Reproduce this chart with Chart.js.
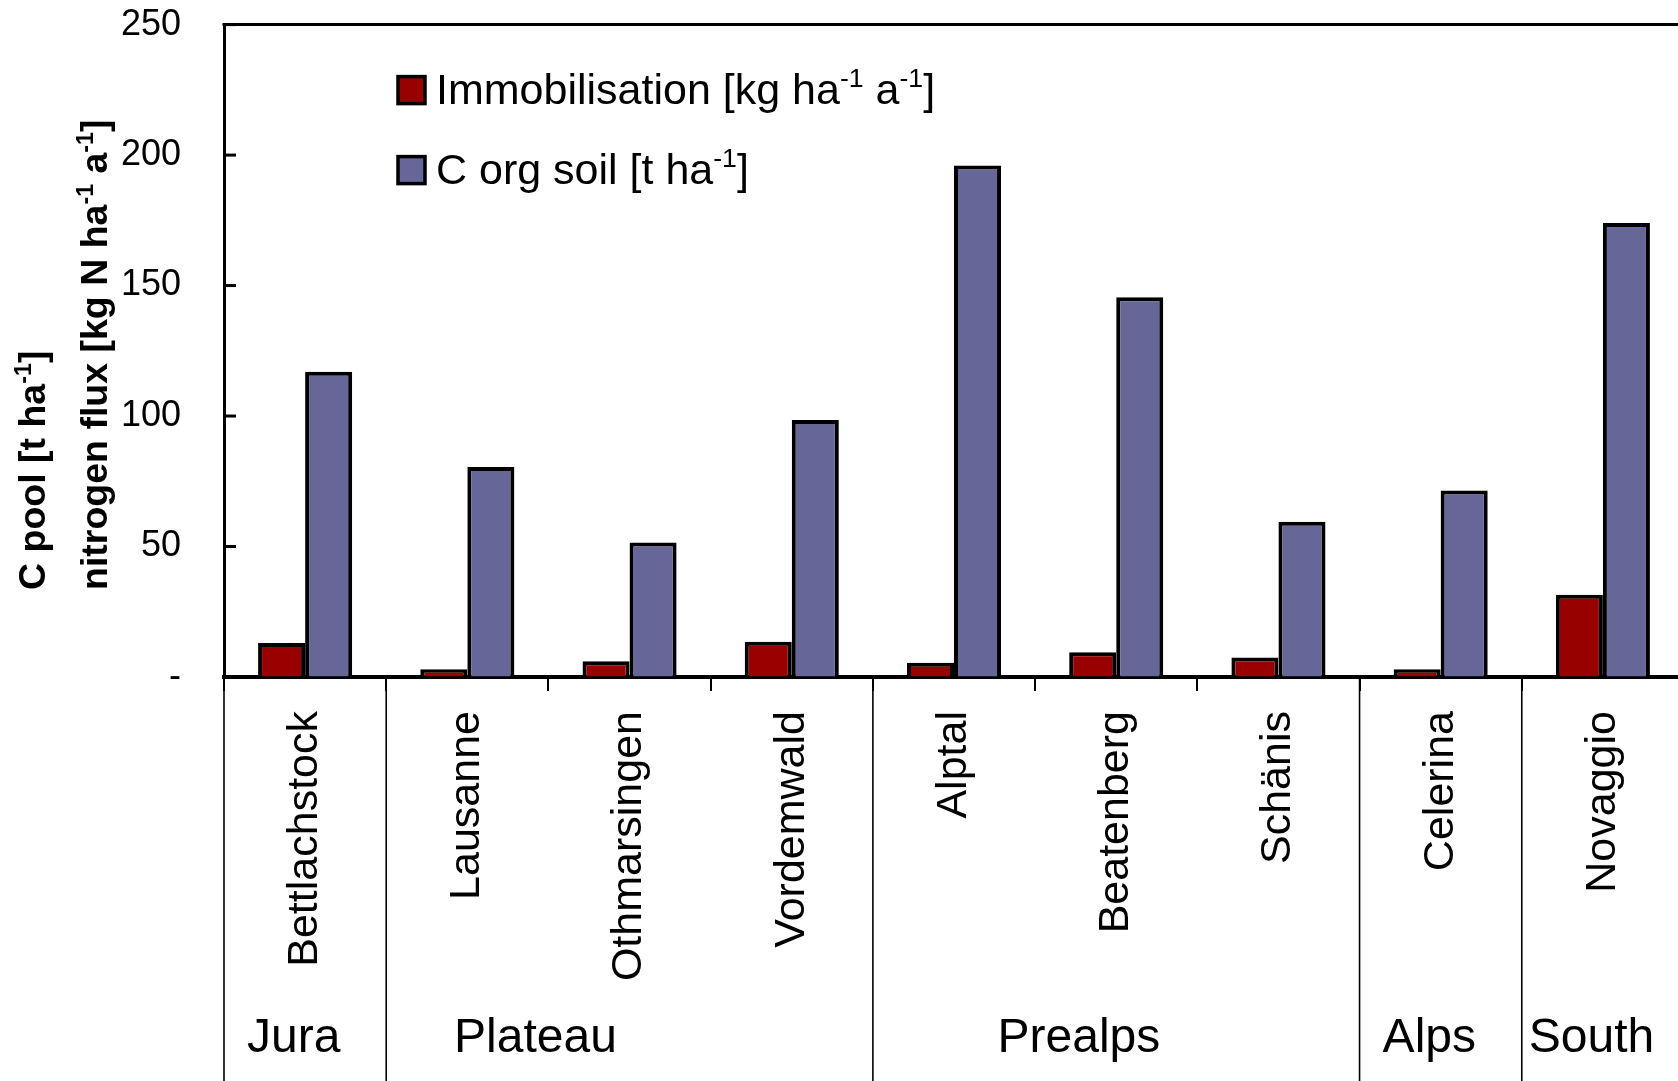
<!DOCTYPE html>
<html>
<head>
<meta charset="utf-8">
<script src="https://cdn.jsdelivr.net/npm/chart.js@4.4.1/dist/chart.umd.min.js"></script>
<style>
  html, body { margin: 0; padding: 0; background: #fff; overflow: hidden; }
  #wrap { width: 1700px; height: 1121px; margin-top: -40px; }
</style>
</head>
<body>
<div id="wrap"><canvas id="nChart"></canvas></div>
<script>
// sites along the x axis
var categories = ["Bettlachstock", "Lausanne", "Othmarsingen", "Vordemwald", "Alptal",
                  "Beatenberg", "Schänis", "Celerina", "Novaggio"];
// nitrogen immobilisation [kg ha-1 a-1]
var immobilisation = [13, 3, 6, 13.5, 5.5, 9.5, 7.5, 3, 31.5];
// organic carbon in soil [t ha-1]
var corgSoil = [117, 80.5, 51.5, 98.5, 196, 145.5, 59.5, 71.5, 174];
// regions below the site names
var regions = ["Jura", "Plateau", "Prealps", "Alps", "South"];
var regionSizes = [1, 3, 3, 1, 1];
var yTicks = [0, 50, 100, 150, 200, 250];
var seriesNames = ["Immobilisation [kg ha^{-1} a^{-1}]", "C org soil [t ha^{-1}]"];
var yTitle = ["C pool [t ha^{-1}]", "nitrogen flux [kg N ha^{-1} a^{-1}]"];

var FONT = "'Liberation Sans', Arial, Helvetica, sans-serif";

// draws text with ^{..} parts as superscript, left aligned at x,y (baseline)
function richText(ctx, str, x, y, size, weight) {
    var parts = str.split(/\^\{([^}]*)\}/);
    ctx.textAlign = "left";
    ctx.textBaseline = "alphabetic";
    for (var i = 0; i < parts.length; i++) {
        if (!parts[i]) continue;
        var sup = i % 2 === 1;
        var s = sup ? size * 0.62 : size;
        ctx.font = weight + " " + s + "px " + FONT;
        ctx.fillText(parts[i], x, sup ? y - size * 0.38 : y);
        x += ctx.measureText(parts[i]).width;
    }
}

var extras = {
    id: "extras",
    afterDraw: function (chart) {
        var ctx = chart.ctx, a = chart.chartArea;
        var xs = chart.scales.x, ys = chart.scales.y;
        ctx.save();
        ctx.strokeStyle = "#000";
        ctx.fillStyle = "#000";

        // top frame line
        ctx.lineWidth = 3;
        ctx.beginPath();
        ctx.moveTo(a.left - 1.5, a.top);
        ctx.lineTo(a.right, a.top);
        ctx.stroke();

        // inner tick marks on y axis
        yTicks.forEach(function (v) {
            if (v === 0) return;
            var py = ys.getPixelForValue(v);
            ctx.beginPath();
            ctx.moveTo(a.left, py);
            ctx.lineTo(a.left + 12, py);
            ctx.stroke();
        });

        // region separators and names
        var catW = xs.getPixelForValue(1) - xs.getPixelForValue(0);
        var labelAt = [0.43, 0.92, 1.27, 0.43, 0.43]; // where each name sits, in site widths
        var start = 0;
        ctx.lineWidth = 1.6;
        regions.forEach(function (name, i) {
            var x0 = xs.getPixelForValue(start) - catW / 2;
            ctx.beginPath();
            ctx.moveTo(x0, a.bottom + 2);
            ctx.lineTo(x0, chart.height);
            ctx.stroke();
            ctx.font = "48px " + FONT;
            ctx.textAlign = "center";
            ctx.textBaseline = "alphabetic";
            ctx.fillText(name, x0 + labelAt[i] * catW, a.bottom + 375);
            start += regionSizes[i];
        });

        // legend
        chart.data.datasets.forEach(function (ds, i) {
            var by = a.top + 52 + i * 80;
            ctx.fillStyle = ds.backgroundColor;
            ctx.fillRect(398, by, 27, 27);
            ctx.lineWidth = 3.5;
            ctx.strokeRect(398, by, 27, 27);
            ctx.fillStyle = "#000";
            richText(ctx, seriesNames[i], 436, by + 27, 43, "normal");
        });

        // y axis title, two rotated lines
        [45, 107].forEach(function (bx, i) {
            ctx.save();
            ctx.translate(bx, a.bottom - 87);
            ctx.rotate(-Math.PI / 2);
            richText(ctx, yTitle[i], 0, 0, 37.5, "bold");
            ctx.restore();
        });
        ctx.restore();
    }
};

var ctx = document.getElementById("nChart").getContext("2d");
var nChart = new Chart(ctx, {
    type: "bar",
    data: {
        labels: categories,
        datasets: [{
            label: "Immobilisation",
            data: immobilisation,
            backgroundColor: "#990000",
            borderColor: "#000",
            borderWidth: 4
        }, {
            label: "C org soil",
            data: corgSoil,
            backgroundColor: "#666699",
            borderColor: "#000",
            borderWidth: 4
        }]
    },
    options: {
        responsive: true,
        maintainAspectRatio: false,
        animation: false,
        datasets: { bar: { categoryPercentage: 0.58, barPercentage: 1 } },
        layout: { padding: { top: 23, right: 16, left: 0, bottom: 0 } },
        plugins: { legend: { display: false }, tooltip: { enabled: false } },
        scales: {
            x: {
                grid: { drawOnChartArea: false, drawTicks: true, tickLength: 14, color: "#000", lineWidth: 2 },
                border: { display: true, width: 4, color: "#000" },
                ticks: {
                    autoSkip: false, minRotation: 90, maxRotation: 90, padding: 20,
                    color: "#000", font: { family: FONT, size: 43 }
                },
                afterFit: function (s) { s.height = 404; }
            },
            y: {
                min: 0,
                max: 250,
                grid: { drawOnChartArea: false, drawTicks: false },
                border: { display: true, width: 3, color: "#000" },
                ticks: {
                    stepSize: 50, padding: 43, color: "#000",
                    font: { family: FONT, size: 36 },
                    callback: function (v) { return v === 0 ? "-" : v; }
                },
                afterFit: function (s) { s.width = 224; }
            }
        }
    },
    plugins: [extras]
});
</script>
</body>
</html>
